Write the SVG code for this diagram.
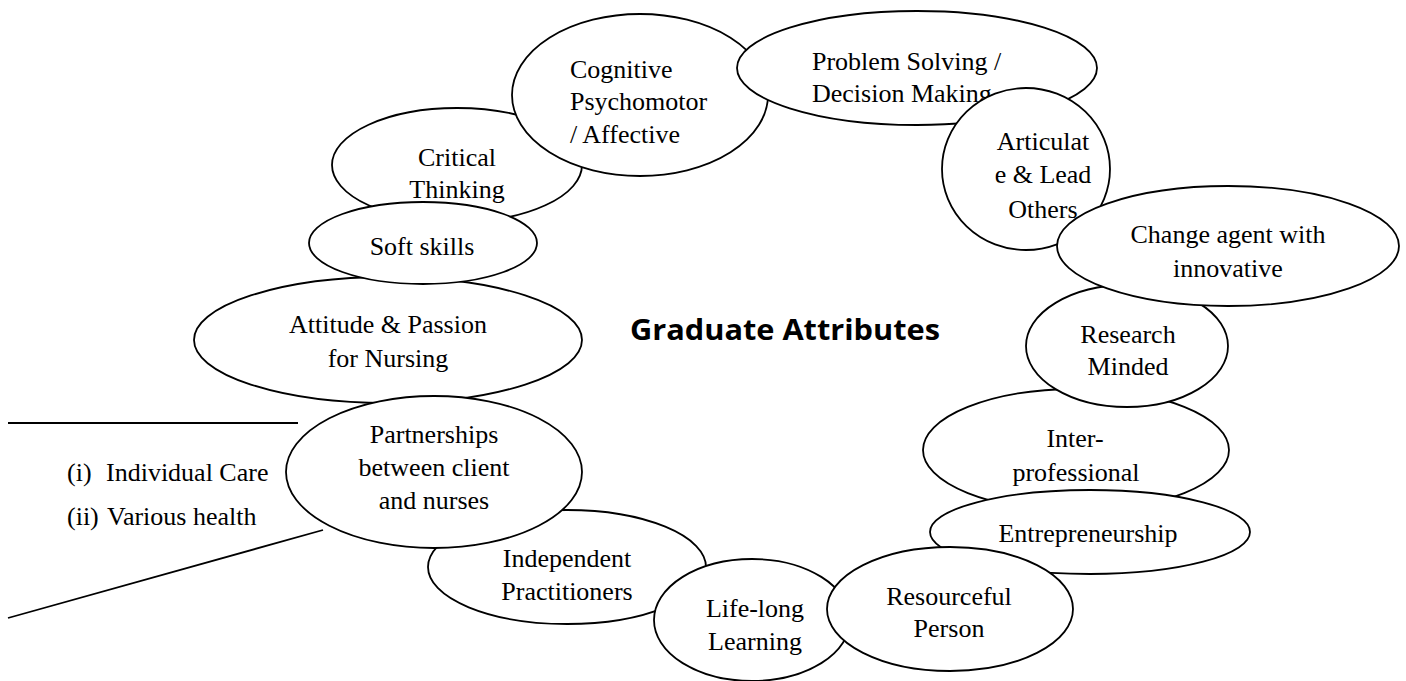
<svg xmlns="http://www.w3.org/2000/svg" width="1406" height="681" viewBox="0 0 1406 681">
<style>
.n ellipse{fill:#fff;stroke:#000;stroke-width:1.8}
.n text,.side text{font-family:"Liberation Serif","Times New Roman",serif;font-size:26px;fill:#000}
.c{text-anchor:middle}
.ln{stroke:#000;stroke-width:1.8;fill:none}
.title{font-family:"Open Sans","DejaVu Sans",sans-serif;font-weight:bold;font-size:28px;fill:#000}
</style>
<rect width="1406" height="681" fill="#fff"/>
<g id="connectors">
<line class="ln" x1="8" y1="423" x2="298" y2="423"/>
<line class="ln" x1="8" y1="618" x2="323" y2="530"/>
</g>
<g class="side" id="side-list">
<text x="67" y="481">(i)</text><text x="106" y="481">Individual Care</text>
<text x="67" y="525">(ii)</text><text x="107" y="525">Various health</text>
</g>
<text class="title" x="630" y="340" textLength="310" lengthAdjust="spacingAndGlyphs">Graduate Attributes</text>
<g class="n" id="critical-thinking"><ellipse cx="457" cy="165" rx="125" ry="57"/><text class="c" x="457" y="166">Critical</text><text class="c" x="457" y="198">Thinking</text></g>
<g class="n" id="attitude"><ellipse cx="388" cy="340" rx="194" ry="63"/><text class="c" x="388" y="333">Attitude &amp; Passion</text><text class="c" x="388" y="367">for Nursing</text></g>
<g class="n" id="soft-skills"><ellipse cx="423" cy="243" rx="114" ry="41"/><text class="c" x="422" y="255">Soft skills</text></g>
<g class="n" id="cognitive"><ellipse cx="640" cy="95" rx="128" ry="81"/><text x="570" y="78">Cognitive</text><text x="570" y="110">Psychomotor</text><text x="570" y="143">/ Affective</text></g>
<g class="n" id="problem-solving"><ellipse cx="917" cy="68" rx="180" ry="57"/><text x="812" y="70">Problem Solving /</text><text x="812" y="102">Decision Making</text></g>
<g class="n" id="articulate"><ellipse cx="1026" cy="169" rx="84" ry="81"/><text class="c" x="1043" y="150">Articulat</text><text class="c" x="1043" y="183">e &amp; Lead</text><text class="c" x="1043" y="218">Others</text></g>
<g class="n" id="inter-professional"><ellipse cx="1076" cy="450" rx="153" ry="61"/><text class="c" x="1075" y="447">Inter-</text><text class="c" x="1076" y="481">professional</text></g>
<g class="n" id="research-minded"><ellipse cx="1127" cy="346" rx="101" ry="61"/><text class="c" x="1128" y="343">Research</text><text class="c" x="1128" y="375">Minded</text></g>
<g class="n" id="change-agent"><ellipse cx="1228" cy="246" rx="171" ry="60"/><text class="c" x="1228" y="243">Change agent with</text><text class="c" x="1228" y="277">innovative</text></g>
<g class="n" id="entrepreneurship"><ellipse cx="1090" cy="532" rx="160" ry="42"/><text class="c" x="1088" y="542">Entrepreneurship</text></g>
<g class="n" id="independent"><ellipse cx="567" cy="567" rx="139" ry="57"/><text class="c" x="567" y="567">Independent</text><text class="c" x="567" y="600">Practitioners</text></g>
<g class="n" id="partnerships"><ellipse cx="434" cy="472" rx="148" ry="76"/><text class="c" x="434" y="443">Partnerships</text><text class="c" x="434" y="476">between client</text><text class="c" x="434" y="509">and nurses</text></g>
<g class="n" id="life-long"><ellipse cx="752" cy="620" rx="98" ry="61"/><text class="c" x="755" y="617">Life-long</text><text class="c" x="755" y="650">Learning</text></g>
<g class="n" id="resourceful"><ellipse cx="950" cy="609" rx="123" ry="62"/><text class="c" x="949" y="605">Resourceful</text><text class="c" x="949" y="637">Person</text></g>
</svg>
